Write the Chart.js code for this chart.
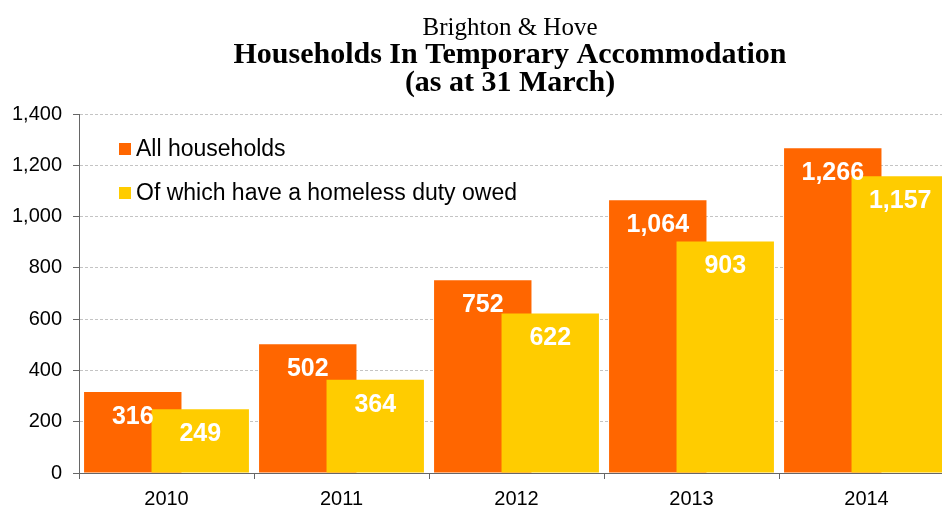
<!DOCTYPE html>
<html>
<head>
<meta charset="utf-8">
<script src="https://cdn.jsdelivr.net/npm/chart.js@4/dist/chart.umd.min.js"></script>
<style>
  html, body { margin: 0; padding: 0; background: #fff; overflow: hidden; }
  #chart { display: block; }
</style>
</head>
<body>
<canvas id="chart" width="954" height="506"></canvas>
<script>
// data
const years = ['2010', '2011', '2012', '2013', '2014'];
const allHouseholds = [316, 502, 752, 1064, 1266];
const dutyOwed = [249, 364, 622, 903, 1157];
const seriesNames = ['All households', 'Of which have a homeless duty owed'];
const yMin = 0, yMax = 1400, yStep = 200;

const sans = "'Liberation Sans', Arial, sans-serif";
const serif = "'Liberation Serif', 'Times New Roman', serif";

function fmt(v) {
    return Number(v).toLocaleString('en-GB');
}

// the heading is centred over the plot area (which runs past the right edge),
// not over the whole canvas
const titleOverPlot = {
    id: 'titleOverPlot',
    afterLayout(chart) {
        chart.boxes.forEach(function (box) {
            if (box.position === 'top' && box.options && box.options.text !== undefined) {
                box.left = chart.chartArea.left - 13;
                box.right = chart.chartArea.right;
            }
        });
    }
};

// Chart.js paints dataset 0 on top; here the second series has to sit over the first,
// so skip the default pass and paint them in index order, then the value labels
const barPainter = {
    id: 'barPainter',
    beforeDatasetDraw() {
        return false;
    },
    afterDatasetsDraw(chart) {
        const ctx = chart.ctx;
        const area = chart.chartArea;
        ctx.save();
        ctx.beginPath();
        ctx.rect(area.left, area.top, area.right - area.left, area.bottom - area.top);
        ctx.clip();
        chart.data.datasets.forEach(function (ds, i) {
            chart.getDatasetMeta(i).controller.draw();
        });
        ctx.restore();

        ctx.save();
        ctx.fillStyle = '#fff';
        ctx.font = 'bold 25px ' + sans;
        ctx.textAlign = 'center';
        ctx.textBaseline = 'middle';
        chart.data.datasets.forEach(function (ds, i) {
            chart.getDatasetMeta(i).data.forEach(function (bar, j) {
                ctx.fillText(fmt(ds.data[j]), bar.x, bar.y + 25);
            });
        });
        ctx.restore();
    }
};

// legend drawn inside the plot, top left
const innerLegend = {
    id: 'innerLegend',
    afterDraw(chart) {
        const ctx = chart.ctx;
        const area = chart.chartArea;
        ctx.save();
        ctx.font = '23px ' + sans;
        ctx.textBaseline = 'middle';
        ctx.textAlign = 'left';
        chart.data.datasets.forEach(function (ds, i) {
            const cy = area.top + 35 + i * 44;
            ctx.fillStyle = ds.backgroundColor;
            ctx.fillRect(area.left + 40, cy - 6, 12, 12);
            ctx.fillStyle = '#000';
            ctx.fillText(ds.label, area.left + 57, cy + 1);
        });
        ctx.restore();
    }
};

const ctx = document.getElementById('chart').getContext('2d');

const chart = new Chart(ctx, {
    type: 'bar',
    data: {
        labels: years,
        datasets: [{
            label: seriesNames[0],
            data: allHouseholds,
            backgroundColor: '#FF6600',
            categoryPercentage: 0.771,
            barPercentage: 1.444
        },
        {
            label: seriesNames[1],
            data: dutyOwed,
            backgroundColor: '#FFCC00',
            categoryPercentage: 0.771,
            barPercentage: 1.444
        }]
    },
    options: {
        responsive: false,
        animation: false,
        layout: { padding: { left: 0, right: 0, top: 0, bottom: 0 } },
        plugins: {
            legend: { display: false },
            tooltip: { enabled: false },
            title: {
                display: true,
                text: 'Brighton & Hove',
                color: '#000',
                font: { family: serif, size: 25, weight: 'normal', lineHeight: 1 },
                padding: { top: 16, bottom: 0 }
            },
            subtitle: {
                display: true,
                text: ['Households In Temporary Accommodation', '(as at 31 March)'],
                color: '#000',
                font: { family: serif, size: 30, weight: 'bold', lineHeight: '28px' },
                padding: { top: 0, bottom: 17 }
            }
        },
        scales: {
            x: {
                afterFit(scale) { scale.height = 33; },
                grid: {
                    offset: true,
                    drawOnChartArea: false,
                    drawTicks: true,
                    tickLength: 6,
                    tickColor: '#666'
                },
                border: { display: true, color: '#666', width: 1 },
                ticks: {
                    color: '#000',
                    font: { family: sans, size: 20 },
                    padding: 8
                }
            },
            y: {
                min: yMin,
                max: yMax,
                afterFit(scale) { scale.width = 79; },
                grid: {
                    color: '#c4c4c4',
                    tickColor: '#666',
                    tickLength: 6,
                    drawTicks: true
                },
                border: { display: true, color: '#666', width: 1, dash: [3, 2] },
                ticks: {
                    stepSize: yStep,
                    color: '#000',
                    font: { family: sans, size: 20 },
                    padding: 11,
                    callback: function (v) { return fmt(v); }
                }
            }
        }
    },
    plugins: [titleOverPlot, barPainter, innerLegend]
});
</script>
</body>
</html>
